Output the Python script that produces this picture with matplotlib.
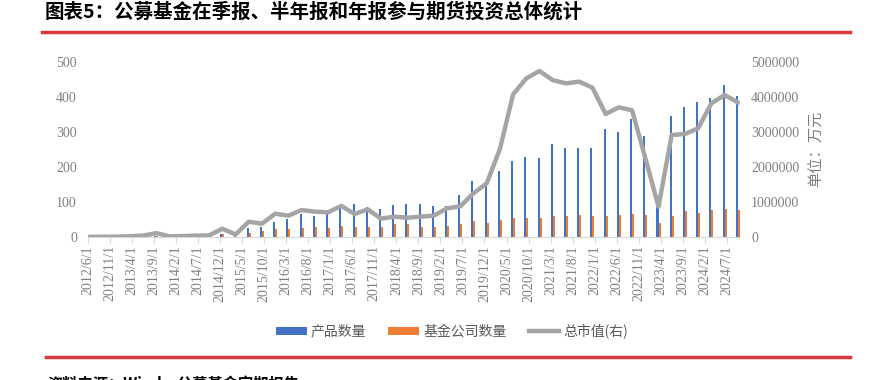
import pandas as pd
import numpy as np
import matplotlib
matplotlib.use("Agg")
import matplotlib.pyplot as plt
from matplotlib.lines import Line2D
from matplotlib.ticker import FuncFormatter

# 季度（2012Q2 - 2024Q3）
quarters = pd.period_range("2012Q2", "2024Q3", freq="Q")

# 产品数量
products = [0, 0, 0, 1, 1, 2, 2, 3, 5, 4,
            10, 2, 25, 28, 44, 51, 67, 61, 67, 90,
            94, 85, 80, 92, 93, 93, 90, 90, 120, 160,
            150, 190, 218, 230, 225, 266, 253, 254, 253, 310,
            300, 338, 289, 85, 346, 371, 387, 396, 434, 404]

# 基金公司数量
companies = [0, 0, 0, 0, 0, 2, 0, 1, 1, 1,
             8, 0, 12, 17, 22, 24, 26, 29, 26, 32,
             30, 29, 29, 36, 36, 30, 30, 31, 36, 46,
             40, 49, 53, 53, 53, 61, 60, 63, 60, 61,
             63, 66, 63, 41, 61, 74, 70, 77, 81, 78]

# 总市值（万元）
total = [5000, 8000, 10000, 20000, 40000, 110000, 20000, 25000, 40000, 45000,
         237000, 70000, 437000, 380000, 666000, 610000, 771000, 724000, 705000, 890000,
         657000, 790000, 524000, 581000, 552000, 581000, 610000, 819000, 876000, 1248000,
         1533000, 2514000, 4076000, 4533000, 4743000, 4480000, 4390000, 4438000, 4267000, 3514000,
         3705000, 3619000, 2260000, 866000, 2914000, 2943000, 3105000, 3819000, 4057000, 3845000]

tick_labels = ["2012/6/1", "2012/11/1", "2013/4/1", "2013/9/1", "2014/2/1", "2014/7/1",
               "2014/12/1", "2015/5/1", "2015/10/1", "2016/3/1", "2016/8/1", "2017/1/1",
               "2017/6/1", "2017/11/1", "2018/4/1", "2018/9/1", "2019/2/1", "2019/7/1",
               "2019/12/1", "2020/5/1", "2020/10/1", "2021/3/1", "2021/8/1", "2022/1/1",
               "2022/6/1", "2022/11/1", "2023/4/1", "2023/9/1", "2024/2/1", "2024/7/1"]

CJK = ["Noto Sans CJK SC", "DejaVu Sans"]
GRAY = "#808080"

plt.rcParams["font.family"] = ["Liberation Serif", "DejaVu Serif"]

# 月份坐标：以 2012/6 为 0，数据放在月份格子中间
x = np.array([(q.year - 2012) * 12 + q.end_time.month - 6 + 0.5 for q in quarters])
tick_pos = [(int(s.split("/")[0]) - 2012) * 12 + int(s.split("/")[1]) - 6 for s in tick_labels]

fig = plt.figure(figsize=(8.75, 3.8), dpi=100)
ax = fig.add_axes([88 / 875, 1 - 237 / 380, 652 / 875, 175 / 380])

b1 = ax.bar(x - 0.23, products, width=0.46, color="#4472C4", label="产品数量")
b2 = ax.bar(x + 0.23, companies, width=0.46, color="#ED7D31", label="基金公司数量")
ax.set_xlim(0, 148)
ax.set_ylim(0, 500)
ax.set_yticks(range(0, 501, 100))
ax.set_xticks(tick_pos)
ax.set_xticklabels(tick_labels, rotation=90)

for s in ["top", "left", "right"]:
    ax.spines[s].set_visible(False)
ax.spines["bottom"].set_color("#D9D9D9")
ax.tick_params(axis="y", length=0, pad=8, labelsize=10, labelcolor=GRAY)
ax.tick_params(axis="x", length=4, color="#D9D9D9", pad=2, labelsize=10, labelcolor=GRAY)

ax2 = ax.twinx()
l1, = ax2.plot(x, total, color="#A5A5A5", lw=3.2, label="总市值(右)")
ax2.set_ylim(0, 5000000)
ax2.set_yticks(range(0, 5000001, 1000000))
ax2.yaxis.set_major_formatter(FuncFormatter(lambda v, p: f"{v:.0f}"))
for s in ax2.spines.values():
    s.set_visible(False)
ax2.tick_params(axis="y", length=0, pad=8, labelsize=10, labelcolor=GRAY)

fig.text(816 / 875, 1 - 149 / 380, "单位：万元", rotation=90, ha="center", va="center",
         fontsize=11, color=GRAY, family=CJK)

# 图例
leg = fig.legend([b1, b2, l1], ["产品数量", "基金公司数量", "总市值(右)"], loc="center",
                 bbox_to_anchor=(452 / 875, 1 - 331 / 380), ncol=3, frameon=False,
                 handlelength=2.2, handleheight=0.5, columnspacing=1.6, handletextpad=0.3,
                 prop={"family": CJK, "size": 10})
for t in leg.get_texts():
    t.set_color("#595959")

# 标题和红线
fig.text(45 / 875, 1 - 12 / 380, "图表5：公募基金在季报、半年报和年报参与期货投资总体统计",
         fontsize=14, fontweight="bold", va="center", family=CJK)
fig.add_artist(Line2D([42 / 875, 850 / 875], [1 - 32 / 380] * 2, color="#D9383F", lw=2.5))
fig.add_artist(Line2D([46 / 875, 850 / 875], [1 - 357 / 380] * 2, color="#D9383F", lw=2.5))
# 底部来源文字在原图中被裁掉大半
fig.text(48 / 875, 1 - 376 / 380, "资料来源：Wind，公募基金定期报告", fontsize=11,
         fontweight="bold", va="top", family=CJK)

plt.savefig("out.png", dpi=100)
